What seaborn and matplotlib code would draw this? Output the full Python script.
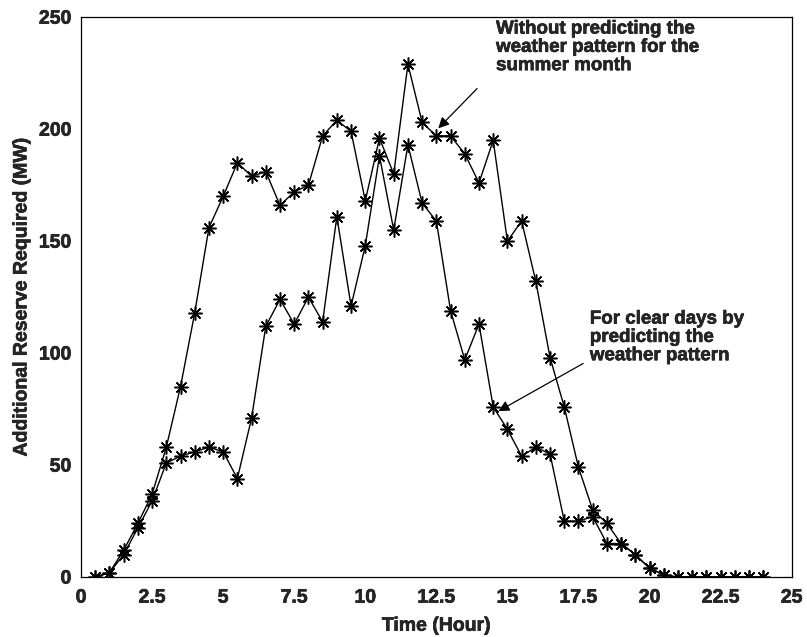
import numpy as np
import pandas as pd
import seaborn as sns
import matplotlib
matplotlib.use('Agg')
import matplotlib.pyplot as plt
import matplotlib.patheffects as pe

hours = [0.5 * i for i in range(1, 49)]

without_pred = [0, 2, 12, 24, 37, 58, 85, 118, 156, 170, 185, 179, 181, 166, 172, 175,
                197, 204, 199, 168, 196, 180, 229, 203, 197, 197, 189, 176, 195, 150, 159, 132,
                98, 76, 49, 30, 24, 15, 10, 4, 1, 0, 0, 0, 0, 0, 0, 0]

clear_days = [0, 2, 10, 22, 34, 51, 54, 56, 58, 56, 44, 71, 112, 124, 113, 125,
              114, 161, 121, 148, 188, 155, 193, 167, 159, 119, 97, 113, 76, 66, 54, 58,
              55, 25, 25, 27, 15, 15, 10, 4, 1, 0, 0, 0, 0, 0, 0, 0]

df = pd.DataFrame({'hour': hours + hours,
                   'mw': without_pred + clear_days,
                   'serie': ['without'] * len(hours) + ['clear'] * len(hours)})

sns.set_style('white')
plt.rcParams['font.family'] = ['Liberation Sans', 'DejaVu Sans']
plt.rcParams['font.weight'] = 'bold'

heavy = [pe.withStroke(linewidth=0.4, foreground='black')]

fig = plt.figure(figsize=(8.07, 6.37), dpi=100)
ax = fig.add_axes([0.1004, 0.094, 0.8806, 0.879])

# asterisk marker like the matlab '*'
sns.lineplot(data=df, x='hour', y='mw', units='serie', estimator=None, color='black',
             marker=(8, 2, 0), markersize=10, markeredgewidth=1.1, markeredgecolor='black',
             linewidth=1, ax=ax)

ax.set_xlim(0, 25)
ax.set_ylim(0, 250)
ax.set_xticks(np.arange(0, 25.1, 2.5))
ax.set_xticklabels(['0', '2.5', '5', '7.5', '10', '12.5', '15', '17.5', '20', '22.5', '25'])
ax.set_yticks(np.arange(0, 251, 50))
ax.tick_params(direction='in', length=5, labelsize=14, width=0.8)
ax.tick_params(axis='x', pad=9)
ax.tick_params(axis='y', pad=7)
for lbl in ax.get_xticklabels() + ax.get_yticklabels():
    lbl.set_fontweight('bold')
    lbl.set_path_effects(heavy)
for s in ax.spines.values():
    s.set_color('black')
    s.set_linewidth(0.9)

ax.set_xlabel('Time (Hour)', fontsize=14, fontweight='bold', labelpad=8, path_effects=heavy)
ax.set_ylabel('Additional Reserve Required (MW)', fontsize=14, fontweight='bold', labelpad=6,
              path_effects=heavy)

ax.annotate('', xy=(12.5, 199.5), xytext=(14.0, 219),
            arrowprops=dict(arrowstyle='-|>', color='black', lw=0.9, mutation_scale=16))
ax.text(14.6, 248.5, 'Without predicting the\nweather pattern for the\nsummer month',
        fontsize=13.5, fontweight='bold', va='top', ha='left', linespacing=1.1,
        path_effects=heavy)

ax.annotate('', xy=(14.6, 73.5), xytext=(17.75, 96),
            arrowprops=dict(arrowstyle='-|>', color='black', lw=0.9, mutation_scale=16))
ax.text(17.9, 119, 'For clear days by\npredicting the\nweather pattern',
        fontsize=13.5, fontweight='bold', va='top', ha='left', linespacing=1.1,
        path_effects=heavy)

if ax.get_legend() is not None:
    ax.get_legend().remove()

fig.savefig('out.png', dpi=100)
